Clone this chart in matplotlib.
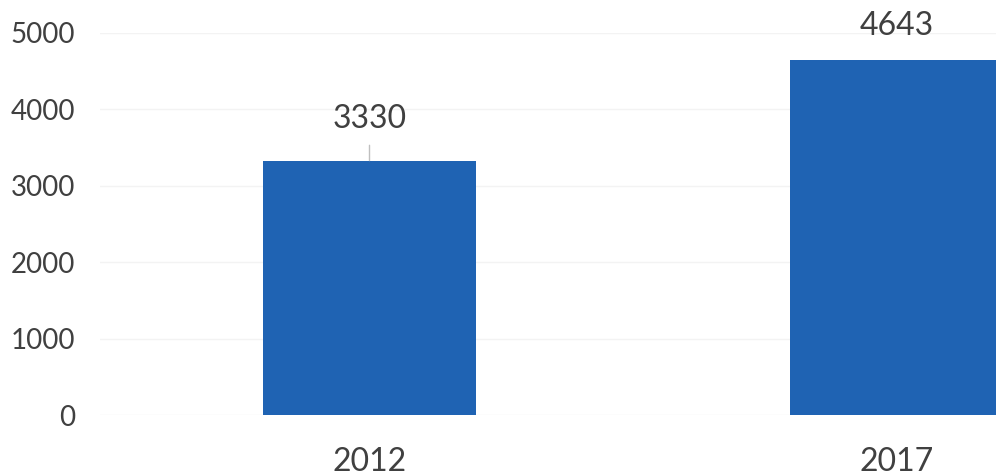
import matplotlib
matplotlib.use("Agg")
import matplotlib.pyplot as plt

categories = ["2012", "2017"]
values = [3330, 4643]
yticks = [0, 1000, 2000, 3000, 4000, 5000]

plt.rcParams['font.family'] = ['Lato', 'DejaVu Sans']

fig = plt.figure(figsize=(9.96, 4.76), dpi=100)
ax = fig.add_axes([100/996, 61/476, 896/996, 382/476])

x = list(range(len(categories)))
bar_color = "#1F63B3"
ax.bar(x, values, width=0.404, color=bar_color, zorder=2)

ax.set_ylim(0, 5000)
ax.set_xlim((100 - 369.5) / 527.5, (996 - 369.5) / 527.5)
ax.set_yticks(yticks)
ax.set_yticklabels([str(t) for t in yticks])
ax.set_xticks(x)
ax.set_xticklabels(categories)
ax.tick_params(axis='y', length=0, pad=18, labelsize=20, labelcolor="#404040")
ax.tick_params(axis='x', length=0, pad=23, labelsize=23, labelcolor="#404040")

for s in ax.spines.values():
    s.set_visible(False)
ax.yaxis.grid(True, color="#F3F3F3", linewidth=1, zorder=0)
ax.set_axisbelow(True)

# data labels
ax.annotate(str(values[0]), xy=(x[0], values[0]), xytext=(0, 19.5), textcoords="offset points",
            ha="center", va="bottom", fontsize=23, color="#404040",
            arrowprops=dict(arrowstyle="-", color="#BFBFBF", lw=1, shrinkA=6.5, shrinkB=0,
                            relpos=(0.5, 0.0)))
ax.annotate(str(values[1]), xy=(x[1], values[1]), xytext=(0, 14), textcoords="offset points",
            ha="center", va="bottom", fontsize=23, color="#404040", annotation_clip=False)

fig.savefig("out.png", dpi=100, facecolor="white")
